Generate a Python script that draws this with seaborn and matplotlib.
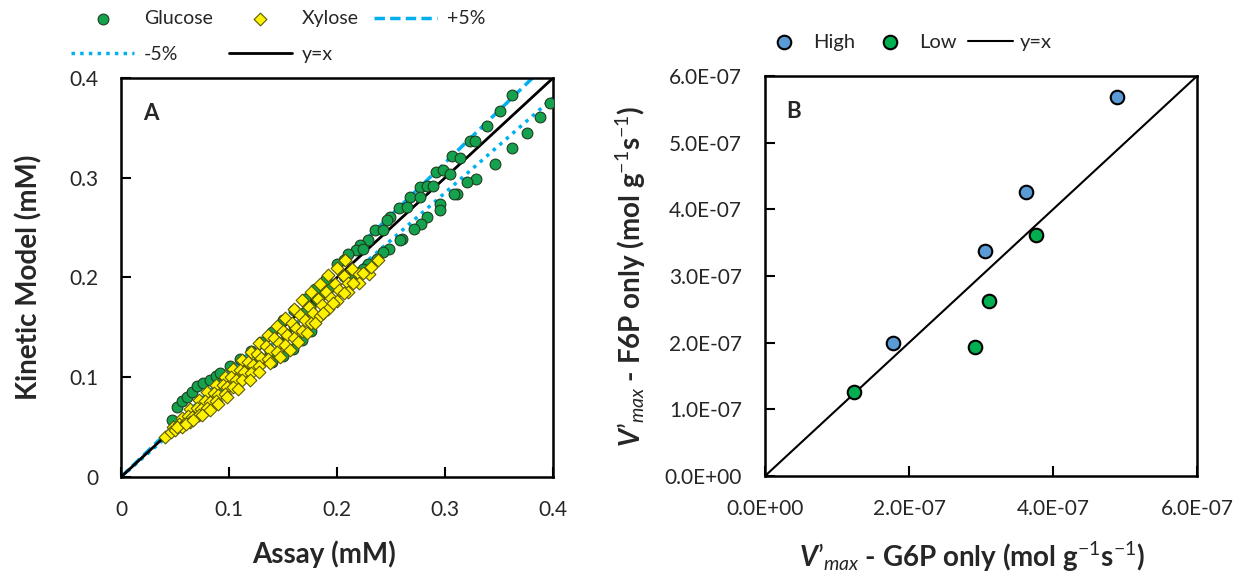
import matplotlib
matplotlib.use("Agg")
import matplotlib.pyplot as plt
import numpy as np
import seaborn as sns

# ---- panel A data (mM) ----
glucose_x = [0.362, 0.351, 0.339, 0.323, 0.328, 0.306, 0.314, 0.292, 0.298, 0.305,
             0.277, 0.283, 0.289, 0.268, 0.277, 0.257, 0.265, 0.249, 0.246, 0.235,
             0.243, 0.229, 0.221, 0.218, 0.224, 0.210, 0.206, 0.200,
             0.397, 0.388, 0.376, 0.362, 0.346, 0.329, 0.320, 0.311, 0.308, 0.295,
             0.295, 0.283, 0.278, 0.271, 0.260, 0.258, 0.248, 0.243, 0.237, 0.229,
             0.224, 0.218, 0.212,
             0.206, 0.194, 0.188, 0.181, 0.175, 0.169, 0.160, 0.153, 0.147, 0.138,
             0.128, 0.118, 0.159, 0.168, 0.176, 0.150, 0.140,
             0.047, 0.052, 0.056, 0.061, 0.066, 0.070, 0.076, 0.082, 0.088, 0.092,
             0.101, 0.110, 0.120, 0.130, 0.140, 0.150, 0.160, 0.170, 0.180, 0.190]
glucose_y = [0.383, 0.367, 0.352, 0.337, 0.337, 0.322, 0.320, 0.306, 0.308, 0.304,
             0.291, 0.292, 0.292, 0.281, 0.281, 0.270, 0.271, 0.261, 0.258, 0.248,
             0.248, 0.238, 0.233, 0.228, 0.229, 0.224, 0.218, 0.214,
             0.375, 0.361, 0.345, 0.330, 0.314, 0.299, 0.296, 0.284, 0.284, 0.274,
             0.268, 0.261, 0.254, 0.249, 0.239, 0.238, 0.229, 0.226, 0.219, 0.214,
             0.209, 0.204, 0.199,
             0.201, 0.191, 0.185, 0.177, 0.170, 0.164, 0.151, 0.143, 0.134, 0.124,
             0.117, 0.110, 0.128, 0.137, 0.146, 0.121, 0.115,
             0.057, 0.070, 0.076, 0.080, 0.085, 0.091, 0.094, 0.097, 0.101, 0.104,
             0.111, 0.118, 0.126, 0.135, 0.145, 0.157, 0.167, 0.178, 0.188, 0.198]

xylose_x = [0.041, 0.048, 0.056, 0.064, 0.072, 0.080, 0.088, 0.096, 0.104, 0.112,
            0.120, 0.128, 0.136, 0.144, 0.152, 0.160, 0.168, 0.176, 0.184, 0.192,
            0.200, 0.207,
            0.046, 0.054, 0.062, 0.070, 0.078, 0.086, 0.094, 0.102, 0.110, 0.118,
            0.126, 0.134, 0.142, 0.150, 0.158, 0.166, 0.174, 0.182, 0.190, 0.198,
            0.206, 0.214,
            0.050, 0.058, 0.066, 0.074, 0.082, 0.090, 0.098, 0.106, 0.114, 0.122,
            0.130, 0.138, 0.146, 0.154, 0.162, 0.170, 0.178, 0.186, 0.194, 0.202,
            0.210, 0.220,
            0.056, 0.064, 0.072, 0.080, 0.088, 0.096, 0.104, 0.112, 0.120, 0.128,
            0.136, 0.144, 0.152, 0.160, 0.168, 0.176, 0.184, 0.192, 0.200, 0.210,
            0.220, 0.230,
            0.052, 0.060, 0.067, 0.075, 0.082, 0.090, 0.098, 0.108, 0.119, 0.128,
            0.138, 0.147, 0.156, 0.164, 0.172, 0.180, 0.187, 0.196, 0.206, 0.215,
            0.224, 0.231, 0.238]
xylose_y = [0.040, 0.050, 0.059, 0.068, 0.077, 0.085, 0.092, 0.100, 0.108, 0.117,
            0.125, 0.134, 0.142, 0.151, 0.159, 0.168, 0.177, 0.185, 0.193, 0.202,
            0.210, 0.218,
            0.045, 0.053, 0.061, 0.069, 0.076, 0.084, 0.092, 0.100, 0.107, 0.115,
            0.123, 0.131, 0.139, 0.146, 0.154, 0.162, 0.170, 0.178, 0.185, 0.193,
            0.201, 0.209,
            0.047, 0.053, 0.060, 0.068, 0.075, 0.082, 0.090, 0.097, 0.105, 0.112,
            0.119, 0.127, 0.134, 0.142, 0.149, 0.157, 0.164, 0.172, 0.179, 0.187,
            0.194, 0.203,
            0.050, 0.055, 0.062, 0.069, 0.076, 0.083, 0.090, 0.097, 0.104, 0.111,
            0.118, 0.125, 0.132, 0.139, 0.146, 0.154, 0.161, 0.168, 0.176, 0.185,
            0.194, 0.203,
            0.050, 0.053, 0.057, 0.062, 0.067, 0.073, 0.080, 0.088, 0.097, 0.105,
            0.114, 0.120, 0.127, 0.135, 0.144, 0.154, 0.164, 0.174, 0.184, 0.194,
            0.204, 0.211, 0.218]

ref_x = np.array([0.0, 0.4])
a_ticks = [0, 0.1, 0.2, 0.3, 0.4]
a_ticklabels = ["0", "0.1", "0.2", "0.3", "0.4"]

# ---- panel B data (mol g-1 s-1) ----
high_x = [4.89e-7, 3.62e-7, 3.06e-7, 1.78e-7]
high_y = [5.69e-7, 4.26e-7, 3.38e-7, 2.00e-7]
low_x = [3.77e-7, 3.11e-7, 2.92e-7, 1.23e-7]
low_y = [3.62e-7, 2.63e-7, 1.93e-7, 1.26e-7]

b_xticks = [0, 2e-7, 4e-7, 6e-7]
b_xticklabels = ["0.0E+00", "2.0E-07", "4.0E-07", "6.0E-07"]
b_yticks = [0, 1e-7, 2e-7, 3e-7, 4e-7, 5e-7, 6e-7]
b_yticklabels = ["0.0E+00", "1.0E-07", "2.0E-07", "3.0E-07", "4.0E-07", "5.0E-07", "6.0E-07"]

sns.set_theme(style="white")
plt.rcParams['font.family'] = ['Lato', 'DejaVu Sans']
plt.rcParams['mathtext.fontset'] = 'custom'
plt.rcParams['mathtext.rm'] = 'Lato'
plt.rcParams['mathtext.it'] = 'Lato:italic:bold'
plt.rcParams['mathtext.sf'] = 'Lato:italic'
plt.rcParams['mathtext.bf'] = 'Lato:bold'

fig = plt.figure(figsize=(12.49, 5.76), dpi=100)
axA = fig.add_axes([0.0969, 0.1719, 0.3459, 0.6927])
axB = fig.add_axes([0.6125, 0.1736, 0.3459, 0.6944])

dash_blue = "#00B0F0"

# panel A
axA.plot(ref_x, 1.05 * ref_x, color=dash_blue, lw=2.5, ls=(0, (3, 1.5)), label="+5%", zorder=1)
axA.plot(ref_x, 0.95 * ref_x, color=dash_blue, lw=2.5, ls=(0, (1, 1.5)), label="-5%", zorder=1)
axA.plot(ref_x, ref_x, color="black", lw=2, label="y=x", zorder=1)
sns.scatterplot(x=glucose_x, y=glucose_y, ax=axA, marker="o", s=60, color="#14A24E",
                edgecolor="#1E3D1E", linewidth=0.8, label="Glucose", zorder=3)
sns.scatterplot(x=xylose_x, y=xylose_y, ax=axA, marker="D", s=42, color="#FFF200",
                edgecolor="#5E5A00", linewidth=0.8, label="Xylose", zorder=4)

axA.set_xlim(0, 0.4)
axA.set_ylim(0, 0.4)
axA.set_xticks(a_ticks)
axA.set_xticklabels(a_ticklabels)
axA.set_yticks(a_ticks)
axA.set_yticklabels(a_ticklabels)
axA.set_xlabel("Assay (mM)", fontsize=20, fontweight="bold")
axA.set_ylabel("Kinetic Model (mM)", fontsize=20, fontweight="bold")
axA.xaxis.set_label_coords(0.47, -0.158)
axA.yaxis.set_label_coords(-0.181, 0.5)
axA.text(0.05, 0.912, "A", transform=axA.transAxes, fontsize=16, fontweight="bold", va="center")

h, l = axA.get_legend_handles_labels()
lut = dict(zip(l, h))
order = ["Glucose", "-5%", "Xylose", "y=x", "+5%"]
axA.legend([lut[k] for k in order], order, ncol=3, loc="upper left",
           bbox_to_anchor=(0.057, 0.982), bbox_transform=fig.transFigure,
           frameon=False, fontsize=14, handlelength=3.25, handletextpad=0.5,
           columnspacing=0.8, labelspacing=0.95, borderpad=0, borderaxespad=0)

# panel B
axB.plot([0, 6e-7], [0, 6e-7], color="black", lw=1.5, label="y=x", zorder=1)
sns.scatterplot(x=high_x, y=high_y, ax=axB, marker="o", s=95, color="#5B9BD5",
                edgecolor="black", linewidth=1.5, label="High", zorder=3)
sns.scatterplot(x=low_x, y=low_y, ax=axB, marker="o", s=95, color="#00B050",
                edgecolor="black", linewidth=1.5, label="Low", zorder=3)

axB.set_xlim(0, 6e-7)
axB.set_ylim(0, 6e-7)
axB.set_xticks(b_xticks)
axB.set_xticklabels(b_xticklabels)
axB.set_yticks(b_yticks)
axB.set_yticklabels(b_yticklabels)
vmax = "$\\mathit{V\u2019}_{\\mathsf{max}}$"
units = "(mol g$^{\\mathrm{-1}}$s$^{\\mathrm{-1}}$)"
axB.set_xlabel(vmax + " - G6P only " + units, fontsize=20, fontweight="bold")
axB.set_ylabel(vmax + " - F6P only " + units, fontsize=20, fontweight="bold")
axB.xaxis.set_label_coords(0.48, -0.16)
axB.yaxis.set_label_coords(-0.271, 0.5)
axB.text(0.05, 0.912, "B", transform=axB.transAxes, fontsize=16, fontweight="bold", va="center")

h, l = axB.get_legend_handles_labels()
lut = dict(zip(l, h))
order = ["High", "Low", "y=x"]
axB.legend([lut[k] for k in order], order, ncol=3, loc="center left",
           bbox_to_anchor=(0.610, 0.927), bbox_transform=fig.transFigure,
           frameon=False, fontsize=14.5, handlelength=2.2, handletextpad=0.35,
           columnspacing=0.6, borderpad=0, borderaxespad=0)

for ax in (axA, axB):
    for sp in ax.spines.values():
        sp.set_color("black")
        sp.set_linewidth(1.8)
    ax.tick_params(direction="in", length=7, width=1.5, color="black",
                   labelsize=15, left=True, bottom=True, pad=16.5)

fig.savefig("out.png", dpi=100)
